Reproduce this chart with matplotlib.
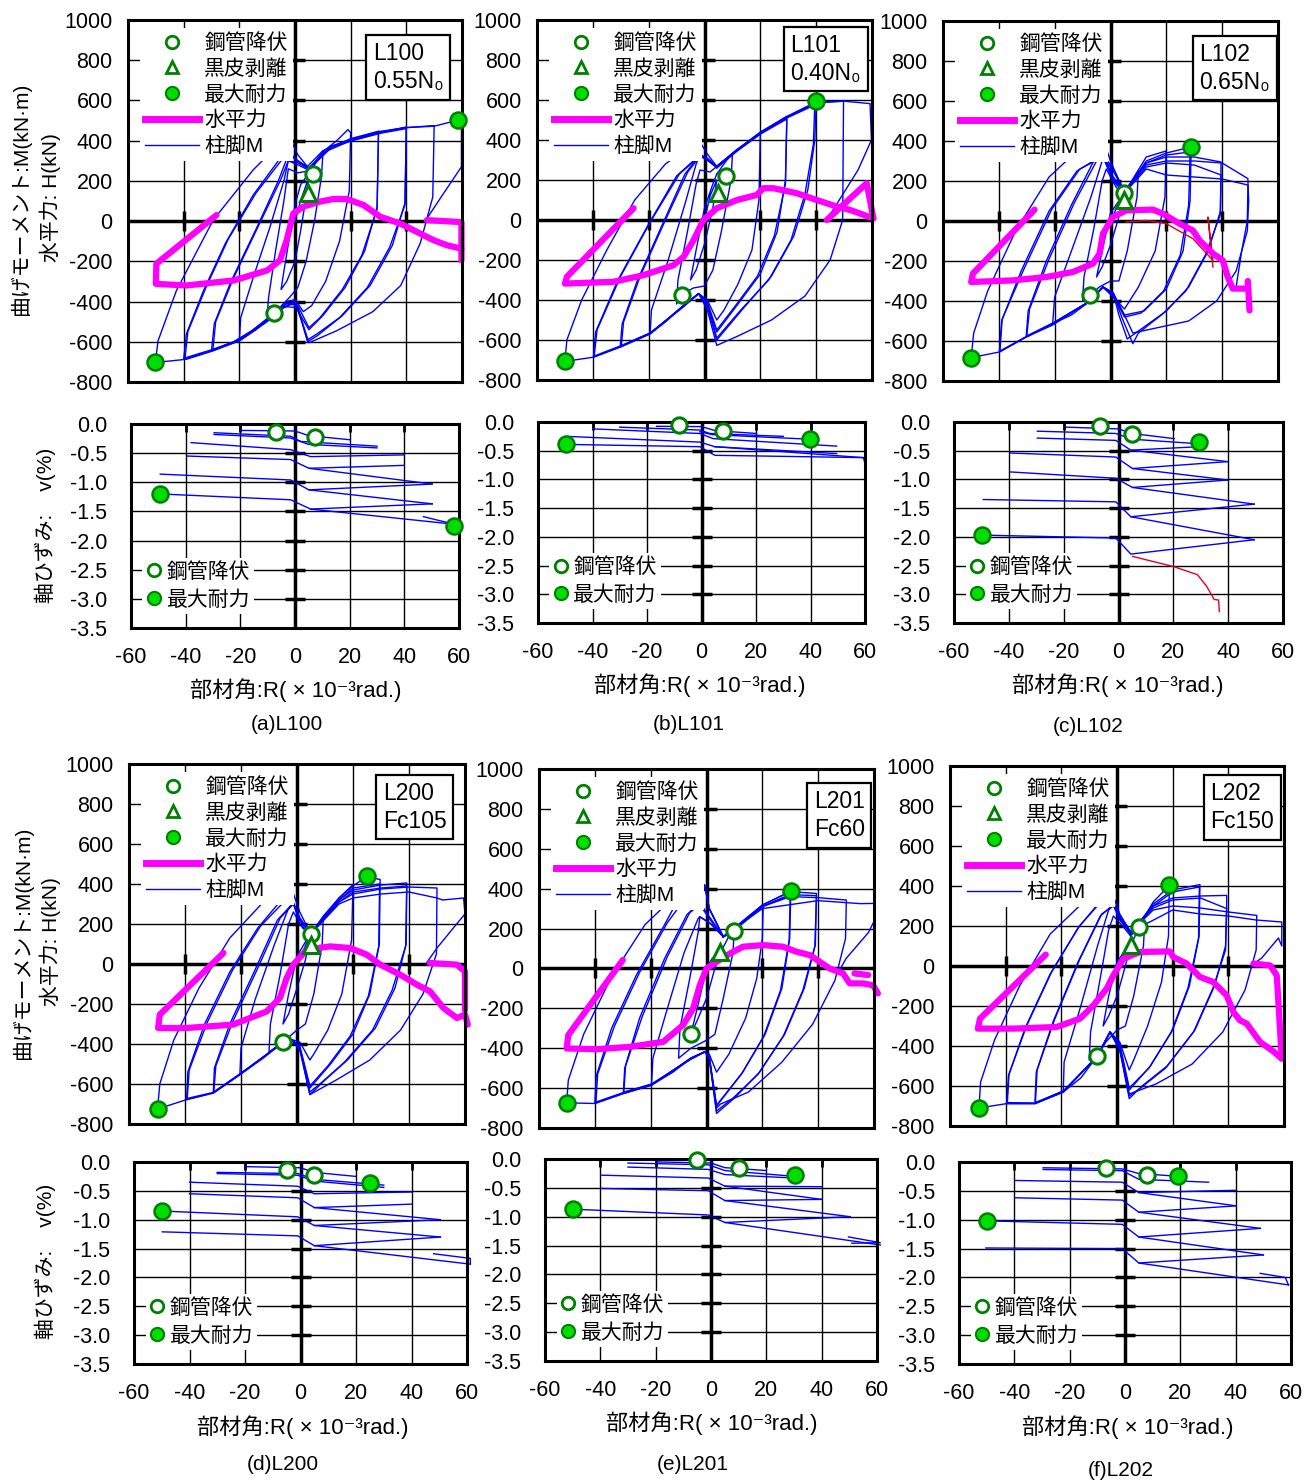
import matplotlib
matplotlib.use('Agg')
import matplotlib.pyplot as plt
from matplotlib.lines import Line2D

plt.rcParams['font.family'] = ['Liberation Sans', 'Noto Sans CJK JP', 'DejaVu Sans']
plt.rcParams['axes.unicode_minus'] = False

BLUE = '#0000ff'; MAG = '#ff00ff'; DKG = '#008000'; LIME = '#00dd00'; RED = '#e0002a'

# ---------------- data ----------------
names = ['L100', 'L101', 'L102', 'L200', 'L201', 'L202']
box_texts = ['L100\n0.55N₀', 'L101\n0.40N₀', 'L102\n0.65N₀', 'L200\nFc105', 'L201\nFc60', 'L202\nFc150']
captions = ['(a)L100', '(b)L101', '(c)L102', '(d)L200', '(e)L201', '(f)L202']
R_ticks = [-60, -40, -20, 0, 20, 40, 60]
M_ticks = [-800, -600, -400, -200, 0, 200, 400, 600, 800, 1000]
V_ticks = [0.0, -0.5, -1.0, -1.5, -2.0, -2.5, -3.0, -3.5]

# column-base moment loops (R, M)
M_L100 = [
    [(0,0),(2,100),(4,180),(5,230),(4,120),(2,-50),(0,-200),(-3,-300),(-5,-340),(-4,-250),(-2,-80),(0,80),(2,180),(5,240)],
    [(5,240),(8,300),(10,330),(9.5,220),(7,0),(4,-200),(1,-330),(-2,-380),(-7.4,-457),(-10,-470),(-9.5,-380),(-7,-150),(-4,100),(-2.4,260),(1,240),(5,250)],
    [(5,255),(10,345),(15,400),(19,455),(20,440),(19.5,150),(16,-100),(11,-300),(6,-420),(3,-450),(0,-390),(-3,-400),(-8,-470),(-14,-540),(-20,-595),(-19.5,-480),(-15,-280),(-9,-30),(-4,200),(-2.4,300),(1,280),(4,260)],
    [(4,265),(10,350),(20,410),(30,447),(29.5,70),(25,-150),(18,-330),(10,-470),(5,-540),(2,-470),(0,-400),(-3,-420),(-7.4,-457),(-15,-540),(-22,-600),(-30,-645),(-29,-510),(-23,-300),(-14,-40),(-6,200),(-2.4,330),(1,300),(5,262)],
    [(5,255),(10,340),(20,400),(30,435),(29.5,60),(24,-170),(17,-340),(9,-480),(5,-530),(1,-420),(-3,-410),(-7.4,-460),(-15,-545),(-22,-600),(-29.5,-640),(-28.5,-500),(-22,-280),(-13,-20),(-5,210),(-2.4,300),(1,290),(5,258)],
    [(5,262),(13,372),(20,405),(30,440),(40,468),(39.5,90),(35,-120),(27,-320),(17,-470),(8,-570),(4.5,-600),(2,-480),(0,-405),(-4,-430),(-10,-500),(-20,-595),(-30,-645),(-40,-687),(-39,-560),(-33,-350),(-25,-110),(-15,130),(-6,300),(-2.4,345),(1,300),(5,265)],
    [(5,258),(13,365),(20,398),(30,435),(40,460),(39.5,80),(34,-130),(26,-330),(16,-480),(8,-560),(4.5,-590),(1,-430),(-4,-425),(-10,-495),(-20,-590),(-30,-640),(-39.5,-680),(-38.5,-550),(-32,-330),(-24,-90),(-14,140),(-5,300),(-2.4,338),(1,300),(5,260)],
    [(5,265),(13,372),(20,405),(30,445),(40,465),(50,475),(49.5,120),(45,-110),(38,-320),(28,-450),(15,-545),(5,-605),(3,-520),(0,-403),(-4,-430),(-7.4,-457),(-20,-595),(-29.4,-645),(-39,-687),(-50.2,-703),(-49.2,-595),(-42.6,-345),(-29.4,5),(-15,255),(-2.4,430),(1,330),(5,262)],
    [(5,262),(13,372),(20,400),(30,440),(40,465),(50,472),(58.6,502),(59.8,500),(59.8,270),(53,130),(47,5)],
]
M_L101 = [
    [(0,0),(2,120),(4.4,200),(3,60),(0,-120),(-3,-250),(-5,-300),(-3,-150),(0,60),(3,180),(4.4,230)],
    [(4.4,230),(8,300),(10,330),(9.5,200),(6,-60),(3,-250),(0,-330),(-4,-340),(-8.1,-373),(-10,-420),(-9.5,-300),(-6,-50),(-3,180),(-1.6,250),(2,240),(4.4,268)],
    [(4.4,268),(11.6,351),(20,435),(19.5,100),(17,-150),(12,-320),(7,-450),(4.4,-500),(1,-400),(-2.1,-368),(-8.1,-435),(-14,-510),(-19.5,-569),(-19,-450),(-13,-200),(-7,80),(-3,280),(-1.6,326),(1,300),(4.4,268)],
    [(4.4,268),(11.6,351),(20,440),(29.5,518),(29,200),(26,-60),(20,-270),(12,-420),(4.4,-560),(1,-420),(-2.1,-368),(-8.1,-435),(-19.5,-569),(-30.2,-635),(-29.5,-520),(-24,-300),(-15,-20),(-7,230),(-1.6,326),(1,310),(4.4,268)],
    [(4.4,260),(11.6,345),(20,430),(29.5,505),(29,180),(25,-80),(19,-280),(11,-430),(4.4,-550),(1,-410),(-2.1,-368),(-8.1,-440),(-19.5,-565),(-29.8,-630),(-29,-510),(-23,-280),(-14,0),(-6,240),(-1.6,320),(1,300),(4.4,262)],
    [(4.4,268),(11.6,351),(20,435),(29.5,515),(40,585),(39.5,400),(37,150),(32,-80),(24,-280),(14,-440),(4.4,-600),(1,-430),(-2.1,-368),(-8.1,-435),(-19.5,-569),(-30.2,-635),(-39.8,-686),(-39,-560),(-31,-300),(-20,-20),(-10,220),(-1.6,326),(1,300),(4.4,268)],
    [(4.4,262),(11.6,345),(20,430),(29.5,510),(39.5,575),(39,380),(36,130),(31,-100),(23,-300),(13,-450),(4.4,-590),(1,-420),(-2.1,-368),(-8.1,-440),(-19.5,-565),(-30.2,-630),(-39.5,-680),(-38.5,-550),(-30,-280),(-19,0),(-9,230),(-1.6,320),(1,300),(4.4,262)],
    [(4.4,268),(11.6,351),(20,435),(29.5,518),(39.9,590),(49.8,594),(49.5,0),(45,-200),(36,-380),(24,-500),(12,-580),(4.4,-627),(1,-450),(-2.1,-368),(-8.1,-435),(-19.5,-569),(-30.2,-635),(-39.8,-686),(-50,-707),(-49.3,-600),(-44,-400),(-35,-150),(-25,100),(-14,280),(-2.1,401),(1,330),(4.4,268)],
    [(4.4,268),(20,435),(30,518),(40,585),(50,594),(59.3,582),(59.8,400),(55,250),(43.8,0)],
]
M_L102 = [
    [(0,0),(2,60),(5,140),(3,20),(0,-120),(-3,-230),(-5,-280),(-3,-150),(0,40),(3,100),(5,120)],
    [(5,120),(8,203),(10,250),(9.5,120),(6,-150),(3,-300),(0,-300),(-4,-330),(-7.3,-370),(-10,-400),(-9.5,-280),(-6,-40),(-3,200),(-1.5,260),(2,170),(5,130)],
    [(5,140),(8,210),(12.8,320),(19.9,350),(19.5,120),(16,-150),(10,-330),(5,-440),(1,-380),(-2.7,-330),(-7.3,-400),(-14,-470),(-20.7,-513),(-20,-380),(-14,-150),(-7,120),(-3,300),(-2.7,320),(1,200),(5,140)],
    [(5,140),(12.8,300),(20,340),(28.9,370),(28.5,100),(26,-150),(20,-340),(12,-450),(5,-470),(1,-380),(-2.7,-330),(-7.3,-400),(-20.7,-513),(-30.2,-580),(-29.5,-450),(-23,-200),(-14,80),(-6,300),(-2.7,330),(1,220),(5,150)],
    [(5,140),(12.8,290),(20,330),(28.5,345),(28,80),(25,-170),(19,-350),(11,-460),(5,-480),(1,-370),(-2.7,-330),(-7.3,-400),(-20.7,-510),(-30,-575),(-29,-440),(-22,-190),(-13,90),(-5,300),(-2.7,320),(1,210),(5,145)],
    [(5,150),(12.8,290),(20,320),(30,320),(39.6,295),(39.4,50),(35,-150),(28,-330),(20,-450),(10,-560),(8,-613),(4,-480),(1,-360),(-2.7,-330),(-7.3,-400),(-20.7,-520),(-30.2,-580),(-39.8,-655),(-39,-500),(-32,-250),(-22,50),(-12,250),(-2.7,330),(1,260),(5,150)],
    [(5,145),(12.8,270),(20,290),(30,280),(39.6,230),(39.3,30),(34,-170),(27,-350),(19,-460),(9,-560),(6,-590),(3,-470),(1,-360),(-2.7,-330),(-7.3,-400),(-20.7,-515),(-30.2,-578),(-39.6,-650),(-38.8,-490),(-31,-240),(-21,60),(-11,260),(-2.7,320),(1,250),(5,145)],
    [(5,150),(12.8,280),(20,300),(30,300),(40,290),(49.2,212),(49.5,100),(49,-50),(45,-250),(38,-400),(28,-500),(18,-530),(8,-560),(5,-470),(1,-360),(-2.7,-330),(-7.3,-400),(-20.7,-513),(-30.2,-580),(-39.8,-655),(-49.9,-683),(-49,-560),(-44,-350),(-34,-50),(-22,220),(-12,350),(-2.7,412),(0,300),(5,140)],
    [(5,140),(12.8,260),(20,230),(30,220),(40,210),(49.2,180),(49.2,153),(49,0),(47,-150),(45,-330)],
]
M_L200 = [
    [(0,0),(2,60),(4.9,150),(3,20),(0,-120),(-3,-250),(-5,-300),(-3,-150),(0,40),(3,110),(4.9,150)],
    [(4.9,150),(9.4,230),(9,100),(6,-150),(3,-300),(0,-330),(-5.1,-392),(-10,-440),(-9.5,-300),(-6,-50),(-3,200),(-1.3,260),(2,180),(4.9,150)],
    [(4.9,150),(9.4,230),(15,330),(20,397),(19.5,120),(16,-150),(11,-330),(6,-450),(4.6,-480),(1,-390),(-1.9,-378),(-5.1,-392),(-12,-470),(-20.4,-553),(-20,-420),(-15,-180),(-8,100),(-3,280),(-1.3,305),(1,200),(4.9,150)],
    [(4.9,150),(9.4,240),(15,330),(20,390),(24.9,438),(29.7,422),(29.4,100),(26,-150),(20,-350),(12,-500),(4.6,-620),(1,-420),(-1.9,-378),(-5.1,-392),(-20.4,-553),(-29.9,-645),(-29.5,-520),(-24,-300),(-15,-30),(-7,220),(-1.3,305),(1,220),(4.9,150)],
    [(4.9,150),(9.4,235),(15,320),(20,380),(29.5,400),(29.2,90),(25.5,-160),(19,-360),(11,-510),(4.6,-610),(1,-410),(-1.9,-378),(-5.1,-395),(-20.4,-550),(-29.7,-640),(-29,-510),(-23,-290),(-14,-20),(-6,230),(-1.3,300),(1,220),(4.9,150)],
    [(4.9,150),(15,320),(20,370),(30,395),(39.2,405),(39,100),(35,-120),(28,-320),(18,-480),(10,-580),(4.6,-653),(1,-420),(-1.9,-378),(-5.1,-392),(-20.4,-553),(-29.9,-645),(-39.4,-678),(-39,-540),(-33,-300),(-24,-40),(-14,180),(-5,330),(-2.5,340),(1,230),(4.9,150)],
    [(4.9,150),(15,310),(20,360),(30,380),(39.2,390),(38.8,90),(34,-130),(27,-330),(17,-490),(9,-590),(4.6,-640),(1,-420),(-1.9,-378),(-5.1,-395),(-20.4,-550),(-29.9,-642),(-39.2,-672),(-38.5,-530),(-32,-290),(-23,-30),(-13,190),(-4,320),(-1.3,305),(1,230),(4.9,150)],
    [(4.9,150),(15,310),(20,350),(30,375),(40,385),(50,380),(49.8,50),(45,-150),(37,-330),(26,-480),(14,-580),(4.6,-653),(1,-430),(-1.9,-378),(-5.1,-392),(-20.4,-553),(-29.9,-645),(-39.4,-678),(-49.8,-725),(-49,-600),(-44,-380),(-35,-120),(-24,130),(-12,310),(-2.5,400),(1,260),(4.9,150)],
    [(4.9,150),(15,300),(20,330),(30,350),(40,360),(50,330),(52,320),(59.5,330),(60,250),(57,200),(50,80),(46,0)],
]
M_L201 = [
    [(0,0),(2,50),(5,80),(3,0),(0,-150),(-3,-250),(-5.6,-331),(-3,-180),(0,0),(3,60),(5,80)],
    [(5,80),(8,160),(9.9,189),(9.5,80),(6,-150),(3,-330),(0,-360),(-5.6,-400),(-10,-450),(-9.5,-300),(-6,-50),(-3,180),(-2.4,259),(2,220),(6,159)],
    [(6,159),(9.9,189),(15,260),(20.3,318),(20,150),(18,-50),(14,-250),(8,-430),(3.6,-520),(1,-430),(-0.6,-418),(-5.6,-450),(-12,-520),(-19.7,-585),(-19.2,-450),(-14,-200),(-8,80),(-3,250),(-2.4,259),(1,230),(6,159)],
    [(6,159),(9.9,189),(20,318),(30.2,388),(29.8,150),(27,-100),(21,-330),(13,-520),(3.6,-686),(1,-450),(-0.6,-418),(-5.6,-450),(-19.7,-585),(-29.8,-627),(-29.3,-500),(-24,-250),(-15,50),(-7,270),(-2.4,330),(1,260),(6,159)],
    [(6,159),(9.9,189),(20,310),(30,370),(29.6,140),(26.5,-110),(20.5,-340),(12.5,-530),(3.6,-690),(1,-440),(-0.6,-418),(-5.6,-455),(-19.7,-580),(-29.6,-620),(-29,-490),(-23,-240),(-14,60),(-6,280),(-2.4,320),(1,250),(6,159)],
    [(6,159),(20,318),(30.2,385),(39.4,376),(39,120),(35,-100),(28,-330),(19,-520),(10,-650),(3.6,-727),(1,-450),(-0.6,-418),(-5.6,-450),(-19.7,-585),(-29.8,-627),(-40,-677),(-39.5,-540),(-34,-300),(-25,-30),(-15,220),(-6.6,438),(-0.6,418),(1,300),(6,159)],
    [(6,159),(20,310),(30,370),(39.4,365),(38.8,110),(34.5,-110),(27.5,-340),(18.5,-530),(9.5,-650),(3.6,-715),(1,-450),(-0.6,-418),(-5.6,-455),(-19.7,-580),(-29.8,-622),(-39.6,-670),(-39,-530),(-33,-290),(-24,-20),(-14,230),(-5,400),(-0.6,410),(1,300),(6,159)],
    [(6,159),(20,310),(30,360),(40,355),(50.1,343),(49.8,150),(46,-60),(38,-280),(27,-470),(15,-620),(5,-680),(3.6,-700),(1,-450),(-0.6,-418),(-5.6,-450),(-19.7,-585),(-29.8,-627),(-40,-677),(-50.1,-674),(-49.5,-560),(-44,-330),(-34,-40),(-22,220),(-10,380),(-0.6,418),(1,300),(6,159)],
    [(6,159),(20,300),(40,340),(50,330),(55,325),(60.2,326),(60.5,250),(58,180),(50,50),(48,0)],
]
M_L202 = [
    [(0,0),(2,50),(4.9,103),(3,0),(0,-150),(-3,-250),(-5,-300),(-3,-150),(0,20),(3,80),(4.9,103)],
    [(4.9,103),(8,195),(10,230),(9.5,100),(6,-150),(3,-300),(0,-320),(-4,-380),(-7.1,-450),(-10,-470),(-9.5,-330),(-6,-60),(-3,180),(-1.3,250),(2,200),(4.9,150)],
    [(4.9,150),(8,200),(13,320),(18.8,403),(18.5,150),(16,-80),(11,-300),(6,-470),(4.4,-520),(1,-380),(-2.5,-330),(-7.1,-450),(-13,-560),(-19.3,-630),(-19,-480),(-13,-200),(-7,100),(-3,280),(-1.3,307),(1,230),(4.9,160)],
    [(4.9,160),(13,310),(20,380),(29.8,407),(29.5,150),(26,-100),(20,-320),(12,-500),(4.4,-620),(1,-400),(-2.5,-330),(-7.1,-450),(-19.3,-630),(-29.5,-688),(-29,-530),(-23,-280),(-14,20),(-6,250),(-1.3,307),(1,240),(4.9,170)],
    [(4.9,160),(13,300),(20,370),(29.6,395),(29.3,140),(25.5,-110),(19.5,-330),(11.5,-510),(4.4,-610),(1,-390),(-2.5,-330),(-7.1,-455),(-19.3,-625),(-29.3,-683),(-28.7,-520),(-22.5,-270),(-13.5,30),(-5.5,260),(-1.3,300),(1,240),(4.9,165)],
    [(4.9,170),(13,300),(20,340),(30,350),(39.4,353),(39.4,287),(39,100),(35,-100),(28,-320),(18,-500),(9,-600),(4.4,-663),(1,-420),(-2.5,-330),(-7.1,-450),(-19.3,-630),(-29.5,-688),(-39.6,-688),(-39,-550),(-33,-310),(-24,-40),(-14,190),(-5,340),(-2.5,350),(1,250),(4.9,170)],
    [(4.9,165),(13,290),(20,330),(30,340),(39.4,287),(39,80),(34.5,-110),(27.5,-330),(17.5,-510),(8.5,-610),(4.4,-650),(1,-410),(-2.5,-330),(-7.1,-455),(-19.3,-625),(-29.5,-685),(-39.4,-683),(-38.8,-540),(-32.5,-300),(-23.5,-30),(-13.5,200),(-4.5,340),(-2.5,340),(1,250),(4.9,170)],
    [(4.9,170),(13,280),(20,300),(30,290),(40,270),(50.2,253),(50,80),(46,-120),(38,-330),(27,-490),(14,-590),(4.4,-640),(1,-420),(-2.5,-330),(-7.1,-450),(-19.3,-630),(-29.5,-688),(-39.6,-688),(-49.6,-710),(-49,-580),(-44,-370),(-35,-100),(-24,160),(-12,320),(-2.5,395),(1,260),(4.9,170)],
    [(4.9,170),(20,280),(30,260),(40,250),(50,230),(59.2,220),(59.2,100),(58,140),(52,40),(48,0)],
]

# horizontal force (R, H)
H_L100 = [(-28.2,30),(-49.8,-212),(-50,-312),(-39,-320),(-22,-295),(-10,-245),(-5.4,-195),(-3,-95),(-0.6,38),(3,72),(9,97),(13.8,110),(18.6,110),(24.6,80),(30.6,22),(37.8,-12),(45,-62),(49.8,-95),(54.6,-120),(59.8,-137),(59.8,-195)]
H2_L100 = [(47.4,5),(59.8,-5),(59.8,-137)]
H_L101 = [(-25.4,59),(-49.3,-284),(-50,-318),(-32.6,-309),(-21.9,-276),(-11.1,-226),(-7.5,-184),(-3.9,-100),(-0.4,0),(4.4,59),(11.6,100),(18.7,125),(21.1,159),(24.7,159),(33,134),(40.2,100),(47.4,67),(52.2,50),(60.5,8)]
H2_L101 = [(43.8,0),(58.1,184),(60.5,8)]
H_L102 = [(-27.2,57),(-49.3,-263),(-49.9,-305),(-35,-297),(-23,-280),(-13.5,-255),(-6.3,-213),(-3.9,-163),(-2.7,-63),(0.8,20),(5.6,53),(15.2,57),(18.7,37),(24.7,-13),(29.5,-47),(31.9,-97),(36.7,-163),(40.2,-197),(42,-280),(43.8,-338),(49.2,-338),(49.2,-300),(49.8,-447)]
H2_L102 = []
H_L200 = [(-26.3,55),(-49,-253),(-49.6,-320),(-39.4,-320),(-22.8,-303),(-10.8,-237),(-6.1,-170),(-3.7,-70),(-1.3,-3),(3.5,72),(11.8,88),(18.9,80),(24.9,47),(29.7,-3),(36.8,-53),(42.8,-103),(47.5,-137),(52.3,-220),(57.1,-270),(60,-253),(61,-303)]
H2_L200 = [(47.5,5),(57,-3),(60,-37),(60,-230)]
H_L201 = [(-30,42),(-49.5,-334),(-50.1,-401),(-39.4,-405),(-27.4,-393),(-15.5,-368),(-8.4,-284),(-4.8,-201),(-2.4,-84),(0,0),(3.6,33),(8.4,75),(13.1,109),(20.3,117),(27.4,109),(32.2,84),(37,67),(40.6,33),(44.1,0),(48.9,-25),(51.3,-75),(56,-75),(59.6,-84),(61.4,-125)]
H2_L201 = [(53,-25),(57.9,-33)]
H_L202 = [(-25.6,57),(-49.2,-263),(-50,-313),(-37.2,-313),(-21.7,-305),(-13.3,-263),(-8.5,-197),(-3.7,-113),(-1.3,-47),(2.3,37),(8.3,70),(19,73),(20.2,45),(25,12),(29.8,-55),(34.6,-80),(39.4,-147),(41.8,-230),(44.2,-272),(46.6,-288),(51.4,-380),(56.2,-427),(59.2,-463)]
H2_L202 = [(49,12),(55,3),(57.4,-47),(59.2,-463)]
RED_L102 = [(5.6,-5),(12.8,3),(19.9,-13),(29.5,-88),(36.7,-197),(34.9,20),(36.7,-230)]

# event markers on M plots
yield_M = [[(6.6,235),(-7.4,-457)], [(7.8,221),(-8.1,-373)], [(5,140),(-7.3,-370)],
           [(4.9,150),(-5.1,-392)], [(9.9,189),(-5.6,-331)], [(8,195),(-7.1,-450)]]
peel_M = [[(4.8,138)], [(5,134)], [(5,103)], [(4.9,97)], [(5,80)], [(4.9,103)]]
max_M = [[(58.6,502),(-50.2,-703)], [(39.9,594),(-50.1,-707)], [(28.9,370),(-49.9,-683)],
         [(24.9,438),(-49.8,-725)], [(30.2,388),(-50.1,-674)], [(18.8,403),(-49.6,-710)]]

# axial strain lines (R, v)
V_L100 = [
    [(-20,-0.11),(0,-0.12),(5,-0.2),(20,-0.27)],
    [(-29.6,-0.15),(-1.6,-0.21),(2.1,-0.3),(30,-0.38)],
    [(-29.6,-0.18),(-1.6,-0.24),(5,-0.35),(30,-0.41)],
    [(-38,-0.32),(-1.6,-0.44),(5.7,-0.56),(39.8,-0.53)],
    [(-39.3,-0.55),(-1.6,-0.61),(5.1,-0.76),(39.8,-0.71)],
    [(5.1,-0.76),(50.2,-1.03)],
    [(-49.3,-0.86),(-1.6,-0.96),(5.1,-1.13),(50.2,-1.03)],
    [(5.1,-1.13),(50.2,-1.37)],
    [(-49.5,-1.2),(-1.6,-1.3),(5.7,-1.46),(50.2,-1.37)],
    [(5.7,-1.46),(58.3,-1.72)],
    [(47,-1.59),(58.3,-1.72)],
]
V_L101 = [
    [(-16.5,-0.075),(0,-0.08),(5,-0.15),(20.2,-0.2)],
    [(-30,-0.09),(-0.6,-0.14),(3,-0.2),(30,-0.25)],
    [(-0.6,-0.17),(4,-0.22),(39.8,-0.3)],
    [(-39.8,-0.12),(-0.6,-0.2),(4.3,-0.29),(49.6,-0.42)],
    [(-49.6,-0.25),(-0.6,-0.35),(4.9,-0.43),(49.6,-0.55)],
    [(-49.8,-0.39),(-0.6,-0.43),(4.9,-0.58),(59.4,-0.62),(60,-0.72)],
    [(4.9,-0.43),(59.4,-0.62)],
]
V_L102 = [
    [(-19,-0.09),(0,-0.12),(5,-0.2),(20.3,-0.29)],
    [(-29.6,-0.16),(-1,-0.2),(5,-0.3),(29.5,-0.38)],
    [(-29.6,-0.28),(-1,-0.32),(4.5,-0.49),(29.5,-0.43)],
    [(4.5,-0.49),(39.8,-0.69)],
    [(-39.3,-0.54),(-1,-0.61),(5.1,-0.81),(39.8,-0.69)],
    [(5.1,-0.81),(39.8,-1.01)],
    [(-39.3,-0.87),(-1,-0.98),(5.1,-1.14),(39.8,-1.01)],
    [(5.1,-1.14),(49.5,-1.43)],
    [(-49.3,-1.35),(-1,-1.39),(4.5,-1.65),(49.5,-1.43)],
    [(4.5,-1.65),(49.5,-2.05)],
    [(-49.7,-1.97),(-1,-2.02),(4.5,-2.30),(49.5,-2.05)],
]
V_L200 = [
    [(-20,-0.08),(0,-0.1),(5,-0.18),(20,-0.25)],
    [(-30,-0.18),(-1,-0.2),(5,-0.3),(30,-0.4)],
    [(-30,-0.2),(-1,-0.23),(5,-0.33),(30,-0.44)],
    [(-40,-0.35),(-1,-0.42),(5,-0.55),(40,-0.52)],
    [(-40,-0.55),(-1,-0.62),(5,-0.79),(40,-0.73)],
    [(5,-0.79),(50.4,-1.0)],
    [(-49.8,-0.85),(-1,-0.95),(5,-1.1),(50.4,-1.0)],
    [(5,-1.1),(50.4,-1.3)],
    [(-49.8,-1.21),(-1,-1.28),(5,-1.45),(50.4,-1.3)],
    [(5,-1.45),(61.2,-1.77)],
    [(48,-1.59),(61.2,-1.67),(61.2,-1.77)],
]
V_L201 = [
    [(-20,-0.05),(0,-0.07),(5,-0.15),(20,-0.2)],
    [(-30,-0.07),(-1,-0.1),(5,-0.2),(30,-0.3)],
    [(-30,-0.14),(-1,-0.18),(5,-0.27),(30,-0.33)],
    [(-39.8,-0.28),(-1,-0.33),(5,-0.47),(40,-0.48)],
    [(5,-0.47),(40,-0.7)],
    [(-39.8,-0.51),(-1,-0.55),(5,-0.72),(40,-0.7)],
    [(5,-0.72),(50.3,-1.0)],
    [(-49.8,-0.87),(-1,-0.97),(5,-1.1),(50.3,-1.0)],
    [(5,-1.1),(61.2,-1.49)],
    [(49.7,-1.35),(61.2,-1.45),(50.9,-1.46)],
]
V_L202 = [
    [(-29.6,-0.1),(-1,-0.12),(5,-0.2),(20,-0.25)],
    [(-29.6,-0.13),(-1,-0.15),(5,-0.3),(30.2,-0.35)],
    [(-39.8,-0.32),(-1,-0.35),(5,-0.53),(39.8,-0.49)],
    [(5,-0.53),(40.2,-0.76)],
    [(-39.8,-0.62),(-1,-0.66),(5,-0.87),(40.2,-0.76)],
    [(5,-0.87),(48.9,-1.15)],
    [(-49.7,-1.02),(-1,-1.08),(5,-1.3),(48.9,-1.15)],
    [(5,-1.3),(50,-1.61)],
    [(-50.3,-1.49),(-1,-1.5),(5,-1.75),(50,-1.61)],
    [(5,-1.75),(59.1,-2.13)],
    [(48.9,-1.93),(57.9,-2.0),(59.1,-2.13)],
]
RED_V_L102 = [(5.1,-2.34),(20.3,-2.52),(28.8,-2.66),(32,-2.85),(34.9,-3.09),(36.5,-3.1),(36.8,-3.3)]

yield_V = [[(-7.1,-0.14),(7.2,-0.23)], [(-8.2,-0.05),(8,-0.16)], [(-6.8,-0.07),(5.1,-0.21)],
           [(-4.9,-0.13),(4.9,-0.22)], [(-5.2,-0.02),(10.3,-0.16)], [(-6.9,-0.1),(7.8,-0.23)]]
max_V = [[(-49.5,-1.2),(58.3,-1.75)], [(-49.8,-0.39),(39.8,-0.30)], [(-49.7,-1.97),(29.5,-0.35)],
         [(-49.8,-0.85),(25.1,-0.36)], [(-49.8,-0.87),(30.4,-0.28)], [(-49.7,-1.02),(19.1,-0.25)]]

M_all = [M_L100, M_L101, M_L102, M_L200, M_L201, M_L202]
H_all = [H_L100, H_L101, H_L102, H_L200, H_L201, H_L202]
H2_all = [H2_L100, H2_L101, H2_L102, H2_L200, H2_L201, H2_L202]
V_all = [V_L100, V_L101, V_L102, V_L200, V_L201, V_L202]

# ---------------- layout (pixels) ----------------
W, Hh = 1306, 1482
top_px = [(128, 20, 462, 382), (537, 20, 872, 380), (943, 21, 1278, 381),
          (129, 764, 465, 1124), (539, 769, 874, 1128), (950, 766, 1284, 1126)]
bot_px = [(131, 424, 459, 628), (538, 422, 865, 623), (954, 422, 1283, 623),
          (134, 1162, 467, 1364), (545, 1159, 877, 1361), (959, 1162, 1291, 1364)]
box_pos = [(0.733, 0.94), (0.757, 0.962), (0.766, 0.94), (0.755, 0.951), (0.82, 0.942), (0.78, 0.956)]
xlab_pos = [(296, 690), (700, 685), (1118, 685), (303, 1427), (712, 1423), (1128, 1427)]
cap_pos = [(287, 725), (689, 725), (1088, 727), (283, 1465), (693, 1465), (1121, 1470)]


def rect(p):
    l, t, r, b = p
    return [l / W, 1 - b / Hh, (r - l) / W, (b - t) / Hh]


fig = plt.figure(figsize=(W / 100, Hh / 100), dpi=100)
FS = 15
TFS = 15.5


def style_frame(ax):
    for s in ax.spines.values():
        s.set_linewidth(2.2)
        s.set_zorder(6)


def xy(pts):
    return [p[0] for p in pts], [p[1] for p in pts]


for i in range(6):
    # ---- moment / horizontal force panel ----
    ax = fig.add_axes(rect(top_px[i]))
    ax.set_xlim(-60, 60)
    ax.set_ylim(-800, 1000)
    for x in [-40, -20, 20, 40]:
        ax.axvline(x, color='k', lw=1.0, zorder=1)
    for y in M_ticks:
        if y not in (0, -800, 1000):
            ax.axhline(y, color='k', lw=1.0, zorder=1)
    ax.axvline(0, color='k', lw=2.5, zorder=2)
    ax.axhline(0, color='k', lw=2.5, zorder=2)
    yt = [t for t in M_ticks if t not in (0, -800, 1000)]
    ax.plot([0] * len(yt), yt, ls='none', marker='_', ms=14, mew=2.5, color='k', zorder=2)
    ax.plot([-40, -20, 20, 40], [0] * 4, ls='none', marker='|', ms=14, mew=2.5, color='k', zorder=2)
    for loop in M_all[i]:
        xs, ys = xy(loop)
        ax.plot(xs, ys, color=BLUE, lw=1.0, zorder=3)
    if i == 2:
        xs, ys = xy(RED_L102)
        ax.plot(xs, ys, color=RED, lw=1.0, zorder=3)
    xs, ys = xy(H_all[i])
    ax.plot(xs, ys, color=MAG, lw=4.5, solid_capstyle='round', solid_joinstyle='round', zorder=4, clip_on=False)
    if H2_all[i]:
        xs, ys = xy(H2_all[i])
        ax.plot(xs, ys, color=MAG, lw=4.5, solid_capstyle='round', solid_joinstyle='round', zorder=4, clip_on=False)
    xs, ys = xy(yield_M[i])
    ax.plot(xs, ys, ls='none', marker='o', ms=11, mfc='white', mec=DKG, mew=2.2, zorder=7, clip_on=False)
    xs, ys = xy(peel_M[i])
    ax.plot(xs, ys, ls='none', marker='^', ms=11, mfc='white', mec=DKG, mew=2.2, zorder=7, clip_on=False)
    xs, ys = xy(max_M[i])
    ax.plot(xs, ys, ls='none', marker='o', ms=11.5, mfc=LIME, mec=DKG, mew=1.8, zorder=7, clip_on=False)
    ax.set_yticks(M_ticks)
    ax.set_yticklabels([str(t) for t in M_ticks])
    ax.set_xticks([])
    ax.tick_params(axis='y', length=0, pad=11, labelsize=TFS)
    style_frame(ax)
    handles = [
        Line2D([], [], ls='none', marker='o', ms=9, mfc='white', mec=DKG, mew=2, label='鋼管降伏'),
        Line2D([], [], ls='none', marker='^', ms=9, mfc='white', mec=DKG, mew=2, label='黒皮剥離'),
        Line2D([], [], ls='none', marker='o', ms=9.5, mfc=LIME, mec=DKG, mew=1.5, label='最大耐力'),
        Line2D([], [], color=MAG, lw=5, label='水平力'),
        Line2D([], [], color=BLUE, lw=1, label='柱脚M'),
    ]
    leg = ax.legend(handles=handles, loc='upper left', bbox_to_anchor=(0.035, 0.978), borderaxespad=0,
                    fontsize=FS, handlelength=2.6, handletextpad=0.25, labelspacing=0.3, borderpad=0.25,
                    frameon=True, fancybox=False, framealpha=1)
    leg.get_frame().set_edgecolor('none')
    leg.get_frame().set_linewidth(0)
    leg.set_zorder(8)
    bx, by = box_pos[i]
    ax.text(bx, by, box_texts[i], transform=ax.transAxes, ha='left', va='top', fontsize=16.5,
            linespacing=1.3, zorder=9,
            bbox=dict(boxstyle='square,pad=0.28', fc='white', ec='k', lw=1.6))

    # ---- axial strain panel ----
    ax2 = fig.add_axes(rect(bot_px[i]))
    ax2.set_xlim(-60, 60)
    ax2.set_ylim(-3.5, 0)
    for x in [-40, -20, 20, 40]:
        ax2.axvline(x, color='k', lw=1.0, zorder=1)
    for y in V_ticks[1:-1]:
        ax2.axhline(y, color='k', lw=1.0, zorder=1)
    ax2.axvline(0, color='k', lw=2.5, zorder=2)
    ax2.plot([0] * 6, V_ticks[1:-1], ls='none', marker='_', ms=14, mew=2.5, color='k', zorder=2)
    for ln in V_all[i]:
        xs, ys = xy(ln)
        ax2.plot(xs, ys, color=BLUE, lw=1.0, zorder=3, clip_on=False)
    if i == 2:
        xs, ys = xy(RED_V_L102)
        ax2.plot(xs, ys, color=RED, lw=1.0, zorder=3)
    xs, ys = xy(yield_V[i])
    ax2.plot(xs, ys, ls='none', marker='o', ms=11, mfc='white', mec=DKG, mew=2.2, zorder=7, clip_on=False)
    xs, ys = xy(max_V[i])
    ax2.plot(xs, ys, ls='none', marker='o', ms=11.5, mfc=LIME, mec=DKG, mew=1.8, zorder=7, clip_on=False)
    ax2.set_yticks(V_ticks)
    ax2.set_yticklabels(['%.1f' % t if t != 0 else '0.0' for t in V_ticks])
    ax2.set_xticks(R_ticks)
    ax2.set_xticklabels([str(t) for t in R_ticks])
    ax2.tick_params(axis='y', length=0, pad=17, labelsize=TFS)
    ax2.tick_params(axis='x', bottom=False, top=True, direction='in', length=6, width=2, pad=14, labelsize=TFS)
    style_frame(ax2)
    h2 = [
        Line2D([], [], ls='none', marker='o', ms=9, mfc='white', mec=DKG, mew=2, label='鋼管降伏'),
        Line2D([], [], ls='none', marker='o', ms=9.5, mfc=LIME, mec=DKG, mew=1.5, label='最大耐力'),
    ]
    lg2 = ax2.legend(handles=h2, loc='lower left', bbox_to_anchor=(0.035, 0.07), borderaxespad=0,
                     fontsize=FS, handlelength=0.7, handletextpad=0.25, labelspacing=0.4, borderpad=0.2,
                     frameon=True, fancybox=False, framealpha=1)
    lg2.get_frame().set_edgecolor('none')
    lg2.get_frame().set_linewidth(0)

    # ---- texts ----
    x, y = xlab_pos[i]
    fig.text(x / W, 1 - y / Hh, '部材角:R( × 10⁻³rad.)', ha='center', va='center', fontsize=16)
    x, y = cap_pos[i]
    fig.text(x / W, 1 - y / Hh, captions[i], ha='center', va='center', fontsize=FS)

# y labels (left column only)
for (x1, x2, yc, yb) in [(20, 50, 198, 525), (22, 50, 942, 1261)]:
    fig.text(x1 / W, 1 - yc / Hh, '曲げモーメント:M(kN·m)', rotation=90, ha='center', va='center', fontsize=FS)
    fig.text(x2 / W, 1 - yc / Hh, '水平力: H(kN)', rotation=90, ha='center', va='center', fontsize=FS)
    fig.text((x2 - 5) / W, 1 - yb / Hh, '軸ひずみ:    v(%)', rotation=90, ha='center', va='center', fontsize=FS)

fig.savefig('out.png', dpi=100)
